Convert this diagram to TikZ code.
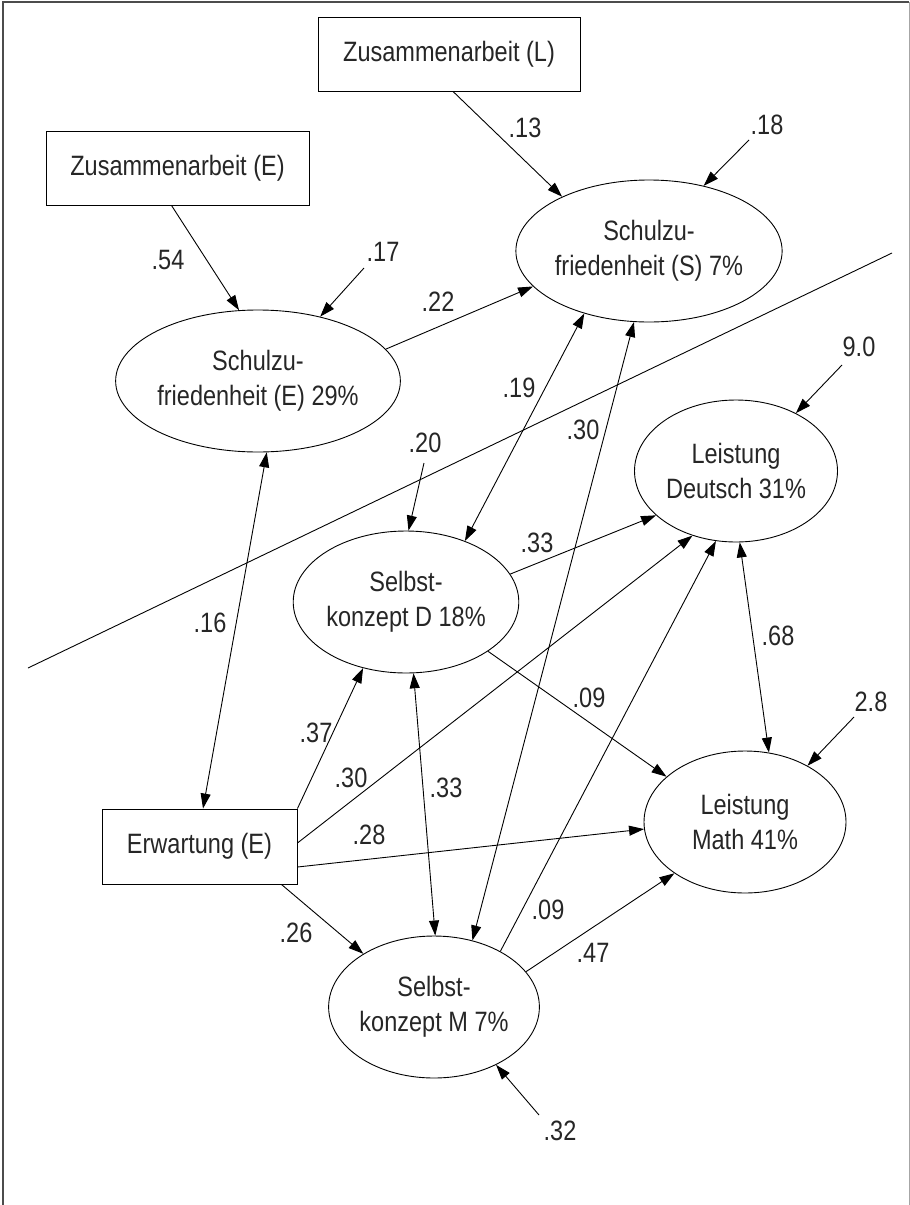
\documentclass[tikz,border=0pt]{standalone}
\usepackage{fontspec}
\setmainfont[FakeStretch=0.84]{Liberation Sans}
\usetikzlibrary{arrows.meta,shapes.geometric}
\begin{document}
\begin{tikzpicture}[x=1pt,y=-1pt,
  every node/.style={font=\fontsize{28}{35}\selectfont, text=black!85},
  ell/.style={draw, ellipse, inner sep=0pt, align=center, line width=0.9pt},
  box/.style={draw, rectangle, inner sep=0pt, line width=0.9pt},
  lab/.style={inner sep=0pt},
  plain/.style={line width=0.9pt},
  conn/.style={line width=0.9pt, -{Triangle[length=15pt,width=10pt]}},
  biconn/.style={line width=0.9pt, {Triangle[length=15pt,width=10pt]}-{Triangle[length=15pt,width=10pt]}},
]
\useasboundingbox (0,0) rectangle (910,1205);
% frame
\draw[black!70, line width=1.3pt] (3,1205) -- (3,2) -- (909,2);
\draw[black!35, line width=1pt] (909,2) -- (909,1205);

% boxes
\node[box, minimum width=262pt, minimum height=74pt] (L) at (449,54) {Zusammenarbeit (L)};
\node[box, minimum width=263pt, minimum height=74pt] (ZE) at (177.5,168) {Zusammenarbeit (E)};
\node[box, minimum width=195pt, minimum height=75pt] (Erw) at (199.5,846.5) {Erwartung (E)};

% ellipses
\node[ell, minimum width=250pt, minimum height=142pt] (S) at (649,251) {Schulzu-\\friedenheit (S) 7\%};
\node[ell, minimum width=259pt, minimum height=142pt] (E) at (258,381) {Schulzu-\\friedenheit (E) 29\%};
\node[ell, minimum width=203pt, minimum height=142pt] (LD) at (736,471) {Leistung\\Deutsch 31\%};
\node[ell, minimum width=203pt, minimum height=142pt] (SD) at (406,602) {Selbst-\\konzept D 18\%};
\node[ell, minimum width=202pt, minimum height=142pt] (LM) at (745,822) {Leistung\\Math 41\%};
\node[ell, minimum width=202pt, minimum height=142pt] (SM) at (434,1007) {Selbst-\\konzept M 7\%};

% free ends
\coordinate (c18) at (749,140);
\coordinate (c17) at (364,268);
\coordinate (c90) at (842,365);
\coordinate (c20) at (424,463);
\coordinate (c28) at (854,717);
\coordinate (c32) at (539,1115);
\coordinate (d1) at (28,668);
\coordinate (d2) at (892,253);

% diagonal line
\draw[plain] (d1) -- (d2);

% connectors
\draw[conn] ([xshift=4pt]L.south) -- (S.148);
\draw[conn] (c18) -- (S.50);
\draw[conn] ([xshift=-6pt]ZE.south) -- (E.105);
\draw[conn] (c17) -- (E.46);
\draw[conn] (E.14) -- (S.197);
\draw[conn] (c90) -- (LD.44);
\draw[biconn] (S.224) -- (SD.46);
\draw[biconn] (S.258) -- (SM.60);
\draw[conn] (c20) -- (SD.88);
\draw[conn] (SD.15) -- (LD.209);
\draw[biconn] (E.277) -- ([xshift=3.5pt]Erw.north);
\draw[biconn] (LD.273) -- (LM.71);
\draw[conn] (SD.329) -- (LM.150);
\draw[conn] (c28) -- (LM.42);
\draw[conn] (Erw.north east) -- (SD.237);
\draw[conn] ([yshift=3.5pt]Erw.east) -- (LD.236);
\draw[biconn] (SD.276) -- (SM.89);
\draw[conn] (SM.40) -- (LD.254);
\draw[conn] ([yshift=-20.5pt]Erw.east) -- (LM.184);
\draw[conn] ([xshift=-16pt]Erw.south east) -- (SM.143);
\draw[conn] (SM.21) -- (LM.216);
\draw[conn] (c32) -- (SM.317);

% labels
\node[lab] (l13) at (525,128) {.13};
\node[lab] (l18) at (767,125) {.18};
\node[lab] (l54) at (168,260) {.54};
\node[lab] (l17) at (383,252) {.17};
\node[lab] (l22) at (438,302) {.22};
\node[lab] (l90) at (859,347) {9.0};
\node[lab] (l19) at (519,388) {.19};
\node[lab] (l30a) at (583,430) {.30};
\node[lab] (l20) at (425,443) {.20};
\node[lab] (l33a) at (537,543) {.33};
\node[lab] (l16) at (210,623) {.16};
\node[lab] (l68) at (778,636) {.68};
\node[lab] (l09a) at (589,698) {.09};
\node[lab] (l28b) at (871,702) {2.8};
\node[lab] (l37) at (316,733) {.37};
\node[lab] (l30b) at (351,778) {.30};
\node[lab] (l33b) at (446,788) {.33};
\node[lab] (l28) at (369,835) {.28};
\node[lab] (l09b) at (548,910) {.09};
\node[lab] (l26) at (296,933) {.26};
\node[lab] (l47) at (593,953) {.47};
\node[lab] (l32) at (560,1131) {.32};
\end{tikzpicture}
\end{document}
